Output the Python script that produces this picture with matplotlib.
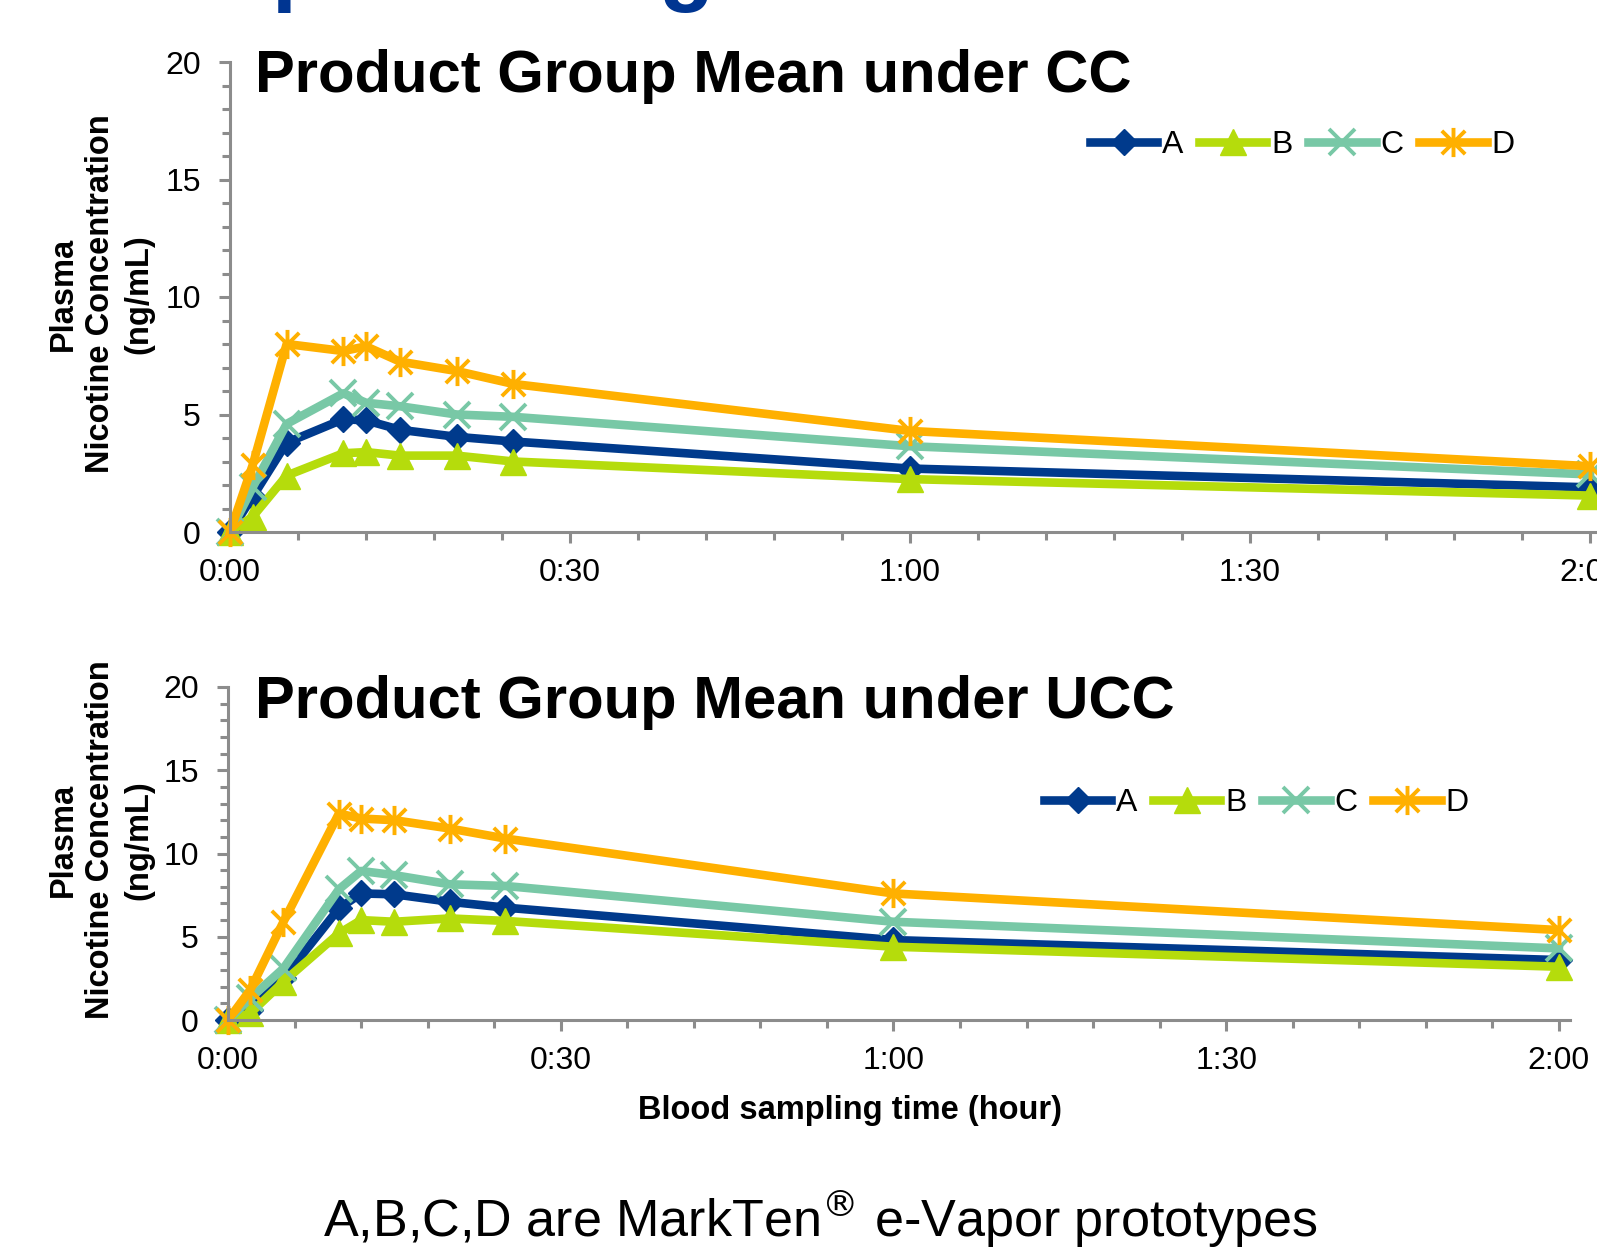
import matplotlib
matplotlib.use("Agg")
import matplotlib.pyplot as plt
import matplotlib.ticker as ticker
from matplotlib.path import Path

plt.rcParams['font.family'] = ['Liberation Sans', 'DejaVu Sans']

# sampling times in minutes
times = [0, 2, 5, 10, 12, 15, 20, 25, 60, 120]
xtick_vals = [0, 30, 60, 90, 120]
xtick_labels = ["0:00", "0:30", "1:00", "1:30", "2:00"]
products = ["A", "B", "C", "D"]

# Product group mean under CC
cc_A = [0, 1.5, 3.8, 4.8, 4.75, 4.35, 4.05, 3.85, 2.7, 1.9]
cc_B = [0, 0.65, 2.4, 3.35, 3.4, 3.25, 3.25, 3.0, 2.25, 1.55]
cc_C = [0, 1.9, 4.6, 5.9, 5.5, 5.35, 5.0, 4.9, 3.65, 2.45]
cc_D = [0, 2.85, 8.0, 7.7, 7.9, 7.25, 6.85, 6.3, 4.3, 2.8]

# Product group mean under UCC
ucc_A = [0, 0.6, 2.5, 6.7, 7.6, 7.55, 7.1, 6.75, 4.8, 3.6]
ucc_B = [0, 0.4, 2.3, 5.2, 6.0, 5.9, 6.1, 5.95, 4.4, 3.2]
ucc_C = [0, 1.3, 3.1, 7.85, 8.95, 8.7, 8.15, 8.05, 5.9, 4.3]
ucc_D = [0, 1.8, 5.9, 12.4, 12.1, 12.0, 11.5, 10.9, 7.6, 5.4]

colors = {"A": "#003A8C", "B": "#B5DC0C", "C": "#78C8A6", "D": "#FFB000"}
axis_grey = "#8C8C8C"

# excel style asterisk marker: vertical bar plus an X
star = Path([(0, -1), (0, 1), (-0.8, -0.8), (0.8, 0.8), (-0.8, 0.8), (0.8, -0.8)],
            [Path.MOVETO, Path.LINETO, Path.MOVETO, Path.LINETO, Path.MOVETO, Path.LINETO])

styles = {
    "A": dict(marker="D", markersize=13, markeredgewidth=1),
    "B": dict(marker="^", markersize=19, markeredgewidth=1),
    "C": dict(marker="x", markersize=18.5, markeredgewidth=2.8),
    "D": dict(marker=star, markersize=21, markeredgewidth=2.8),
}

W, H = 1597, 1257
fig = plt.figure(figsize=(W / 100, H / 100), dpi=100)


def draw_panel(rect, series, xmax, title, title_xy, legend_xy):
    ax = fig.add_axes(rect)
    for name, vals in zip(products, series):
        ax.plot(times, vals, color=colors[name], lw=6.2, label=name,
                markerfacecolor=colors[name], markeredgecolor=colors[name],
                clip_on=False, solid_joinstyle="round", **styles[name])
    ax.set_xlim(0, xmax)
    ax.set_ylim(0, 20)
    for s in ["top", "right"]:
        ax.spines[s].set_visible(False)
    for s in ["left", "bottom"]:
        ax.spines[s].set_color(axis_grey)
        ax.spines[s].set_linewidth(2.2)
    ax.xaxis.set_major_locator(ticker.FixedLocator(xtick_vals))
    ax.xaxis.set_major_formatter(ticker.FixedFormatter(xtick_labels))
    ax.xaxis.set_minor_locator(ticker.MultipleLocator(6))
    ax.yaxis.set_major_locator(ticker.MultipleLocator(5))
    ax.yaxis.set_minor_locator(ticker.MultipleLocator(1))
    ax.tick_params(which="major", length=8, width=2.2, color=axis_grey, labelsize=23)
    ax.tick_params(which="minor", length=6, width=2.2, color=axis_grey)
    ax.tick_params(axis="y", which="major", pad=13)
    ax.tick_params(axis="x", which="major", pad=11)
    fig.text(title_xy[0] / W, 1 - title_xy[1] / H, title, fontsize=43,
             fontweight="bold", ha="left", va="baseline")
    fig.legend(*ax.get_legend_handles_labels(), loc="center left",
               bbox_to_anchor=(legend_xy[0] / W, 1 - legend_xy[1] / H),
               ncol=4, frameon=False, fontsize=23, handlelength=2.1,
               handletextpad=0.15, columnspacing=0.5, borderpad=0,
               borderaxespad=0)
    return ax


top = draw_panel([230 / W, 1 - 532 / H, (W - 230) / W, 470 / H],
                 [cc_A, cc_B, cc_C, cc_D], 120.62,
                 "Product Group Mean under CC", (255, 92), (1090, 145))
bot = draw_panel([228 / W, 1 - 1020 / H, (1570 - 228) / W, 333 / H],
                 [ucc_A, ucc_B, ucc_C, ucc_D], 121,
                 "Product Group Mean under UCC", (255, 718), (1044, 803))

ylab = "Plasma\nNicotine Concentration\n(ng/mL)"
fig.text(101 / W, 1 - 294 / H, ylab, rotation=90, ha="center", va="center",
         multialignment="center", fontsize=23.5, fontweight="bold", linespacing=1.28)
fig.text(101 / W, 1 - 840 / H, ylab, rotation=90, ha="center", va="center",
         multialignment="center", fontsize=23.5, fontweight="bold", linespacing=1.28)

fig.text(850 / W, 1 - 1111 / H, "Blood sampling time (hour)", ha="center",
         va="center", fontsize=23.5, fontweight="bold")

fig.text(820 / W, 1 - 1237 / H, "A,B,C,D are MarkTen$^{®}$ e-Vapor prototypes",
         ha="center", va="baseline", fontsize=37.5)

# cut-off slide title fragments at the very top
fig.text(271 / W, 1 + 6 / H, "p", fontsize=65, fontweight="bold",
         color="#003591", ha="left", va="baseline")
fig.text(658 / W, 1 + 6 / H, "g", fontsize=65, fontweight="bold",
         color="#003591", ha="left", va="baseline")

fig.savefig("out.png", dpi=100)
